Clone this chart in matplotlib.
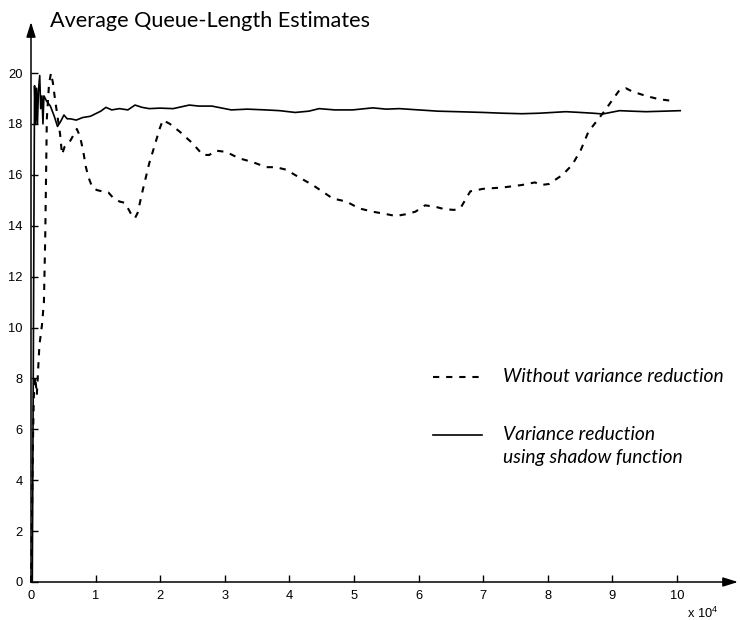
import matplotlib
matplotlib.use("Agg")
import matplotlib.pyplot as plt
from matplotlib.lines import Line2D
from matplotlib.patches import ArrowStyle

# ---------------- data (x in units of 1e4) ----------------
dashed_x = [0, 0.01, 0.02, 0.03, 0.045, 0.066, 0.09, 0.13, 0.17, 0.2,
            0.22, 0.245, 0.28, 0.31, 0.34, 0.37, 0.41, 0.45, 0.48, 0.52,
            0.6, 0.71, 0.76, 0.81, 0.85, 0.89, 0.95, 1.02, 1.1, 1.2,
            1.27, 1.37, 1.45, 1.52, 1.57, 1.61, 1.65, 1.73, 1.83, 1.92,
            1.99, 2.04, 2.15, 2.3, 2.5, 2.66, 2.76, 2.86, 3.02, 3.22,
            3.43, 3.64, 3.79, 3.95, 4.15, 4.36, 4.67, 4.88, 5.08, 5.29,
            5.49, 5.65, 5.8, 5.95, 6.1, 6.25, 6.4, 6.55, 6.65, 6.8,
            7.0, 7.3, 7.6, 7.8, 7.9, 8.02, 8.23, 8.38, 8.51, 8.63,
            8.77, 8.87, 8.98, 9.11, 9.21, 9.31, 9.52, 9.72, 9.91]
dashed_y = [0, 1.5, 3.5, 5.5, 7.4, 8.05, 7.35, 9.3, 10.1, 11.0,
            13.5, 18.2, 19.6, 20.0, 19.6, 19.0, 18.3, 17.6, 16.8, 17.1,
            17.3, 17.8, 17.5, 16.9, 16.3, 15.9, 15.5, 15.4, 15.35, 15.3,
            15.1, 14.95, 14.9, 14.6, 14.35, 14.3, 14.5, 15.4, 16.45, 17.2,
            17.8, 18.15, 18.0, 17.7, 17.24, 16.78, 16.78, 16.95, 16.9, 16.65,
            16.5, 16.3, 16.3, 16.2, 15.9, 15.6, 15.07, 14.95, 14.68, 14.55,
            14.46, 14.38, 14.45, 14.55, 14.8, 14.75, 14.65, 14.62, 14.7, 15.35,
            15.45, 15.5, 15.6, 15.7, 15.6, 15.64, 16.0, 16.4, 16.97, 17.7,
            18.15, 18.48, 18.87, 19.33, 19.4, 19.27, 19.1, 18.97, 18.91]

solid_x = [0, 0.02, 0.035, 0.045, 0.055, 0.07, 0.085, 0.1, 0.115, 0.135,
           0.15, 0.17, 0.185, 0.2, 0.24, 0.3, 0.36, 0.41, 0.46, 0.51,
           0.56, 0.61, 0.7, 0.8, 0.92, 1.0, 1.08, 1.16, 1.25, 1.37,
           1.5, 1.61, 1.72, 1.83, 2.0, 2.2, 2.45, 2.6, 2.8, 3.1,
           3.35, 3.63, 3.85, 4.09, 4.3, 4.46, 4.7, 4.98, 5.29, 5.5,
           5.7, 6.0, 6.3, 6.6, 7.0, 7.3, 7.6, 7.87, 8.28, 8.5,
           8.7, 8.85, 9.11, 9.3, 9.52, 9.8, 10.05]
solid_y = [0, 0, 8, 14, 19.5, 18.0, 19.4, 18.0, 19.3, 19.9,
           18.6, 19.1, 18.0, 19.1, 18.9, 18.7, 18.3, 17.9, 18.1, 18.35,
           18.2, 18.2, 18.15, 18.25, 18.3, 18.4, 18.5, 18.65, 18.55, 18.6,
           18.55, 18.74, 18.65, 18.6, 18.62, 18.6, 18.74, 18.7, 18.7, 18.55,
           18.58, 18.55, 18.52, 18.45, 18.5, 18.6, 18.55, 18.55, 18.63, 18.58,
           18.6, 18.55, 18.5, 18.48, 18.45, 18.42, 18.4, 18.42, 18.48, 18.45,
           18.42, 18.39, 18.52, 18.5, 18.48, 18.5, 18.52]

x_ticks = list(range(0, 11))
x_tick_labels = [str(v) for v in x_ticks]
y_ticks = list(range(0, 21, 2))
y_tick_labels = [str(v) for v in y_ticks]

title_text = "Average Queue-Length Estimates"
legend_dashed = "Without variance reduction"
legend_solid_1 = "Variance reduction"
legend_solid_2 = "using shadow function"
scale_text = "x 10$^{4}$"

# ---------------- figure ----------------
plt.rcParams["font.family"] = ["Liberation Sans", "DejaVu Sans"]
plt.rcParams["mathtext.fontset"] = "custom"
plt.rcParams["mathtext.rm"] = "Liberation Sans"
plt.rcParams["mathtext.default"] = "regular"

W, H = 740, 620
fig = plt.figure(figsize=(W / 100, H / 100), dpi=100)


def fx(px):
    return px / W


def fy(py):
    return 1 - py / H


ax_left, ax_right, ax_bottom, ax_top = 31, 738, 582, 22
ax = fig.add_axes([fx(ax_left), fy(ax_bottom), (ax_right - ax_left) / W,
                   (ax_bottom - ax_top) / H])
ax.set_xlim(0, (ax_right - ax_left) / 64.6)
ax.set_ylim(0, (ax_bottom - ax_top) / 25.45)
for s in ax.spines.values():
    s.set_visible(False)
ax.patch.set_visible(False)

ax.plot(solid_x, solid_y, color="k", lw=1.2, clip_on=False)
ax.plot(dashed_x, dashed_y, color="k", lw=1.5, linestyle=(0, (3, 3.3)),
        clip_on=False)

arrow = ArrowStyle("-|>", head_length=0.9, head_width=0.28)
for end in [(1, 0), (0, 1)]:
    ax.annotate("", xy=end, xytext=(0, 0), xycoords="axes fraction",
                textcoords="axes fraction", annotation_clip=False,
                arrowprops=dict(arrowstyle=arrow, color="k", lw=1.1,
                                shrinkA=0, shrinkB=0, mutation_scale=10))

ax.set_xticks(x_ticks)
ax.set_xticklabels(x_tick_labels)
ax.set_yticks(y_ticks)
ax.set_yticklabels(y_tick_labels)
ax.tick_params(axis="both", direction="in", length=5, width=1,
               labelsize=9.3, colors="k")
ax.tick_params(axis="x", pad=6)
ax.tick_params(axis="y", pad=6)

fig.text(fx(687), fy(618), scale_text, fontsize=9.3, ha="left",
         va="baseline")

# title and legend texts (Myriad-like look)
hum = ["Lato", "DejaVu Sans"]
t_title = fig.text(fx(50), fy(27), title_text, family=hum, fontsize=15,
                   ha="left", va="baseline")
t_leg1 = fig.text(fx(503), fy(377), legend_dashed, family=hum,
                  style="italic", fontsize=13, ha="left", va="center")
t_leg2 = fig.text(fx(503), fy(435), legend_solid_1, family=hum,
                  style="italic", fontsize=13, ha="left", va="center")
t_leg3 = fig.text(fx(503), fy(458), legend_solid_2, family=hum,
                  style="italic", fontsize=13, ha="left", va="center")

fig.canvas.draw()
r = fig.canvas.get_renderer()
w = t_title.get_window_extent(r).width
t_title.set_fontsize(15 * 320 / w)
w = t_leg1.get_window_extent(r).width
fs_leg = 13 * 220 / w
for t in (t_leg1, t_leg2, t_leg3):
    t.set_fontsize(fs_leg)

fig.add_artist(Line2D([fx(433), fx(482)], [fy(377), fy(377)], color="k",
                      lw=1.5, linestyle=(0, (3, 3.3))))
fig.add_artist(Line2D([fx(433), fx(482)], [fy(435), fy(435)], color="k",
                      lw=1.2))

fig.savefig("out.png", dpi=100)
